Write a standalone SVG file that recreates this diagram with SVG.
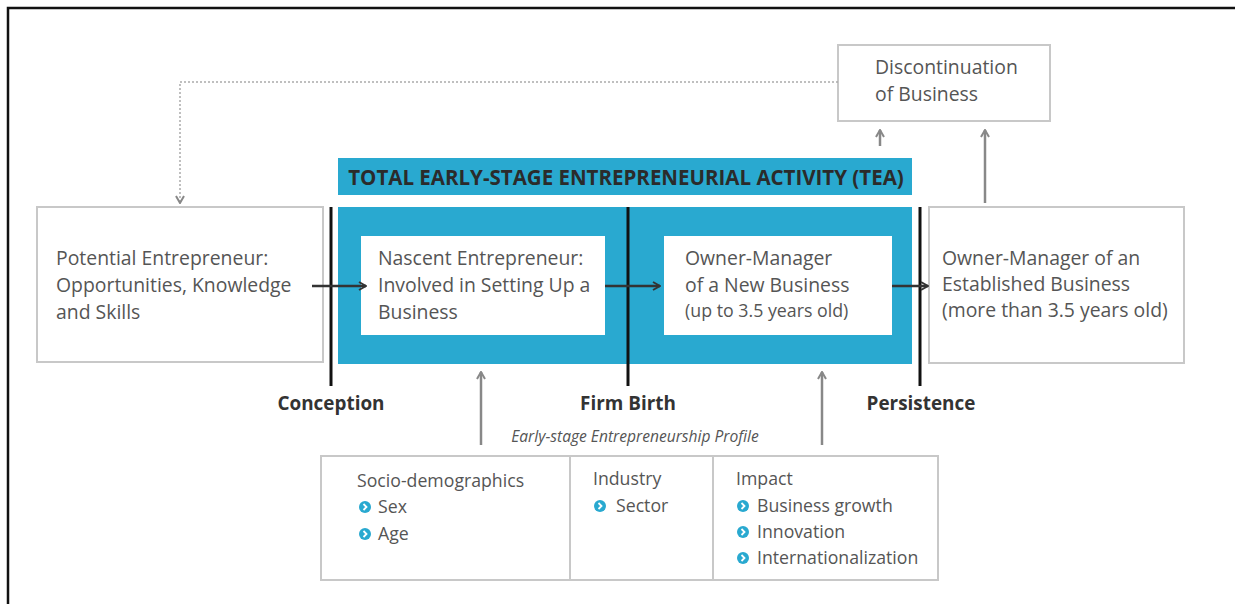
<svg xmlns="http://www.w3.org/2000/svg" width="1235" height="604" viewBox="0 0 1235 604">
  <style>
    .txt { font-family: "Open Sans", "Liberation Sans", sans-serif; font-size: 19.4px; fill: #555; }
    .small { font-size: 17.8px; }
    .list { font-size: 17.7px; }
    .hdr { font-family: "Open Sans", "Liberation Sans", sans-serif; font-size: 20.5px; font-weight: bold; fill: #2b2b2b; }
    .stage { font-family: "Open Sans", "Liberation Sans", sans-serif; font-size: 18.9px; font-weight: bold; fill: #333; text-anchor: middle; }
    .prof { font-family: "Open Sans", "Liberation Sans", sans-serif; font-size: 15.6px; font-style: italic; fill: #555; text-anchor: middle; }
    .gbox { fill: #fff; stroke: #c8c8c8; stroke-width: 2; }
    .wbox { fill: #fff; }
    .blue { fill: #29a9d0; }
    .mark { stroke: #111; stroke-width: 3; }
    .flow { stroke: #333; stroke-width: 2.5; fill: none; marker-end: url(#dark); }
    .up { stroke: #888; stroke-width: 2.5; fill: none; marker-end: url(#gray); }
    .dot { stroke: #aaa; stroke-width: 1.5; stroke-dasharray: 2 2; fill: none; marker-end: url(#gray); }
  </style>
  <defs>
    <marker id="dark" viewBox="0 0 10 10" refX="9" refY="5" markerWidth="10" markerHeight="10" markerUnits="userSpaceOnUse" orient="auto">
      <path d="M2,1 L9,5 L2,9" fill="none" stroke="#333" stroke-width="2"/>
    </marker>
    <marker id="gray" viewBox="0 0 10 10" refX="9" refY="5" markerWidth="10" markerHeight="10" markerUnits="userSpaceOnUse" orient="auto">
      <path d="M2,1 L9,5 L2,9" fill="none" stroke="#888" stroke-width="2"/>
    </marker>
    <g id="bullet">
      <circle r="6" fill="#29a9d0"/>
      <path d="M-1.5,-3 L1.5,0 L-1.5,3" fill="none" stroke="#fff" stroke-width="1.8"/>
    </g>
  </defs>

  <!-- page frame -->
  <rect x="8" y="8" width="1240" height="620" fill="#fff" stroke="#111" stroke-width="2.5"/>

  <!-- TEA band -->
  <g id="tea">
    <rect class="blue" x="338" y="158" width="574" height="37"/>
    <text class="hdr" x="626" y="185" text-anchor="middle">TOTAL EARLY-STAGE ENTREPRENEURIAL ACTIVITY (TEA)</text>
    <rect class="blue" x="338" y="207" width="574" height="157"/>
  </g>

  <g id="potential">
    <rect class="gbox" x="37" y="207" width="286" height="155"/>
    <text class="txt" x="56" y="265">Potential Entrepreneur:</text>
    <text class="txt" x="56" y="292">Opportunities, Knowledge</text>
    <text class="txt" x="56" y="319">and Skills</text>
  </g>

  <g id="nascent">
    <rect class="wbox" x="361" y="236" width="244" height="99"/>
    <text class="txt" x="378" y="265">Nascent Entrepreneur:</text>
    <text class="txt" x="378" y="292">Involved in Setting Up a</text>
    <text class="txt" x="378" y="319">Business</text>
  </g>

  <g id="newbiz">
    <rect class="wbox" x="664" y="236" width="228" height="99"/>
    <text class="txt" x="685" y="265">Owner-Manager</text>
    <text class="txt" x="685" y="292">of a New Business</text>
    <text class="txt small" x="685" y="317">(up to 3.5 years old)</text>
  </g>

  <g id="established">
    <rect class="gbox" x="929" y="207" width="255" height="156"/>
    <text class="txt" x="942" y="265">Owner-Manager of an</text>
    <text class="txt" x="942" y="291">Established Business</text>
    <text class="txt" x="942" y="317">(more than 3.5 years old)</text>
  </g>

  <g id="discontinuation">
    <rect class="gbox" x="838" y="45" width="212" height="76"/>
    <text class="txt" x="875" y="74">Discontinuation</text>
    <text class="txt" x="875" y="101">of Business</text>
  </g>

  <!-- stage boundaries -->
  <g id="stages">
    <line class="mark" x1="331" y1="207" x2="331" y2="386"/>
    <line class="mark" x1="628" y1="207" x2="628" y2="386"/>
    <line class="mark" x1="920" y1="207" x2="920" y2="386"/>
    <text class="stage" x="331" y="410">Conception</text>
    <text class="stage" x="628" y="410">Firm Birth</text>
    <text class="stage" x="921" y="410">Persistence</text>
  </g>

  <g id="profile">
    <text class="prof" x="635" y="442">Early-stage Entrepreneurship Profile</text>
    <rect class="gbox" x="321" y="456" width="617" height="124"/>
    <line x1="570" y1="456" x2="570" y2="580" stroke="#c8c8c8" stroke-width="2"/>
    <line x1="713" y1="456" x2="713" y2="580" stroke="#c8c8c8" stroke-width="2"/>
    <text class="txt list" x="357" y="487">Socio-demographics</text>
    <use href="#bullet" x="365" y="507"/>
    <text class="txt list" x="378" y="513">Sex</text>
    <use href="#bullet" x="365" y="534"/>
    <text class="txt list" x="378" y="540">Age</text>
    <text class="txt list" x="593" y="485">Industry</text>
    <use href="#bullet" x="600" y="506"/>
    <text class="txt list" x="616" y="512">Sector</text>
    <text class="txt list" x="736" y="485">Impact</text>
    <use href="#bullet" x="743" y="506"/>
    <text class="txt list" x="757" y="512">Business growth</text>
    <use href="#bullet" x="743" y="532"/>
    <text class="txt list" x="757" y="538">Innovation</text>
    <use href="#bullet" x="743" y="558"/>
    <text class="txt list" x="757" y="564">Internationalization</text>
  </g>

  <!-- connectors -->
  <g id="connectors">
    <path class="flow" d="M312,286 H366"/>
    <path class="flow" d="M605,286 H660"/>
    <path class="flow" d="M892,286 H928"/>
    <path class="up" d="M880,146 V130"/>
    <path class="up" d="M985,203 V130"/>
    <path class="up" d="M481,445 V372"/>
    <path class="up" d="M822,445 V372"/>
    <path class="dot" d="M838,82 H180 V203"/>
  </g>
</svg>
